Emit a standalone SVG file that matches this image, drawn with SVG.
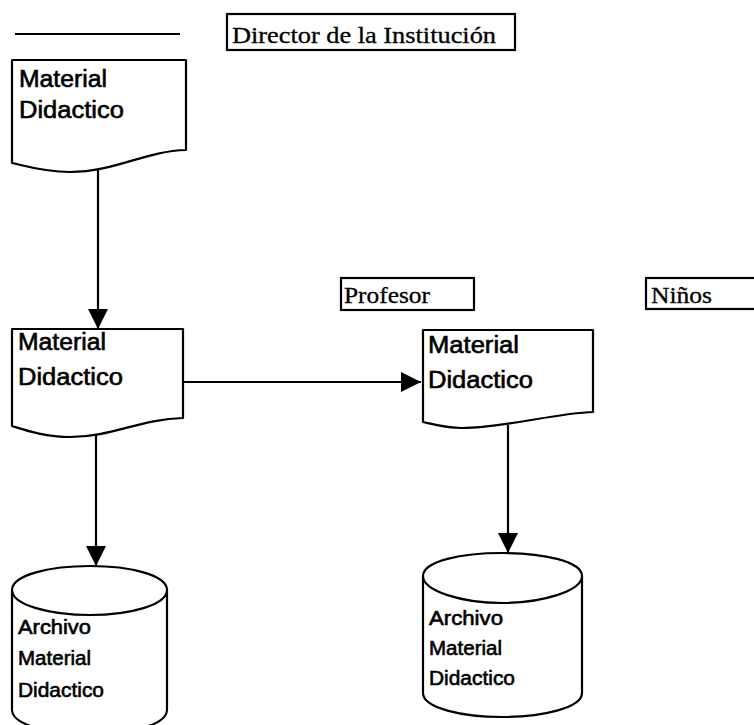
<svg xmlns="http://www.w3.org/2000/svg" width="754" height="725" viewBox="0 0 754 725">
<defs>
<style>
.shape{fill:#fff;stroke:#000;stroke-width:2.2;stroke-linejoin:round}
.lbl{fill:none;stroke:#000;stroke-width:2.2}
.ser{font-family:"Liberation Serif","Times New Roman",serif;font-size:23px;fill:#000;stroke:#000;stroke-width:0.3}
.doc{font-family:"Liberation Sans",Arial,sans-serif;font-size:23px;fill:#000;stroke:#000;stroke-width:0.6}
.cyl{font-family:"Liberation Sans",Arial,sans-serif;font-size:20px;fill:#000;stroke:#000;stroke-width:0.6}
.con{fill:none;stroke:#000;stroke-width:2.2}
</style>
<marker id="ah" markerWidth="20" markerHeight="20" refX="10" refY="5" orient="auto" markerUnits="userSpaceOnUse" viewBox="0 0 10 10">
<path d="M0,0 L10,5 L0,10 Z" fill="#000"/>
</marker>
</defs>
<rect width="754" height="725" fill="#fff"/>

<g id="topline"><line x1="15" y1="34" x2="180" y2="34" stroke="#000" stroke-width="2.2"/></g>

<g id="lane-director">
<rect class="lbl" x="227" y="14" width="288" height="36"/>
<text class="ser" x="232" y="43" textLength="264" lengthAdjust="spacingAndGlyphs">Director de la Institución</text>
</g>
<g id="lane-profesor">
<rect class="lbl" x="341" y="278" width="133" height="32"/>
<text class="ser" x="344" y="303" textLength="86" lengthAdjust="spacingAndGlyphs">Profesor</text>
</g>
<g id="lane-ninos">
<rect class="lbl" x="646" y="278" width="120" height="31"/>
<text class="ser" x="651" y="303" textLength="61" lengthAdjust="spacingAndGlyphs">Niños</text>
</g>

<g id="connectors">
<line class="con" x1="98" y1="166" x2="98" y2="329" marker-end="url(#ah)"/>
<line class="con" x1="183" y1="382" x2="421" y2="382" marker-end="url(#ah)"/>
<line class="con" x1="96" y1="434" x2="96" y2="566" marker-end="url(#ah)"/>
<line class="con" x1="508" y1="425" x2="508" y2="553" marker-end="url(#ah)"/>
</g>

<g id="doc1">
<path class="shape" d="M12,60 H186 V150 C145,151 115,172 70,172 C45,172 25,166 12,163 Z"/>
<text class="doc" x="19" y="87" textLength="88" lengthAdjust="spacingAndGlyphs">Material</text>
<text class="doc" x="19" y="118" textLength="105" lengthAdjust="spacingAndGlyphs">Didactico</text>
</g>

<g id="doc2">
<path class="shape" d="M12,329 H183 V418 C140,419 112,437 70,437 C45,437 25,430 12,426 Z"/>
<text class="doc" x="18" y="350" textLength="88" lengthAdjust="spacingAndGlyphs">Material</text>
<text class="doc" x="18" y="385" textLength="105" lengthAdjust="spacingAndGlyphs">Didactico</text>
</g>

<g id="doc3">
<path class="shape" d="M423,330 H593 V412 C555,413 505,428 462,428 C445,428 432,424 423,422 Z"/>
<text class="doc" x="428" y="353" textLength="91" lengthAdjust="spacingAndGlyphs">Material</text>
<text class="doc" x="428" y="388" textLength="105" lengthAdjust="spacingAndGlyphs">Didactico</text>
</g>

<g id="cyl1">
<path class="shape" d="M12,590 C12,575 50,566 90,566 C130,566 167,575 167,590 V710 C167,725 130,734 90,734 C50,734 12,725 12,710 Z"/>
<path class="shape" d="M12,590 C12,605 50,615 90,615 C130,615 167,605 167,590"/>
<text class="cyl" x="18" y="634" textLength="73" lengthAdjust="spacingAndGlyphs">Archivo</text>
<text class="cyl" x="18" y="665" textLength="73" lengthAdjust="spacingAndGlyphs">Material</text>
<text class="cyl" x="18" y="697" textLength="86" lengthAdjust="spacingAndGlyphs">Didactico</text>
</g>

<g id="cyl2">
<path class="shape" d="M423,576 C423,561 462,553 502,553 C542,553 582,561 582,576 V693 C582,708 542,717 502,717 C462,717 423,708 423,693 Z"/>
<path class="shape" d="M423,576 C423,591 462,603 502,603 C542,603 582,591 582,576"/>
<text class="cyl" x="429" y="625" textLength="74" lengthAdjust="spacingAndGlyphs">Archivo</text>
<text class="cyl" x="429" y="655" textLength="73" lengthAdjust="spacingAndGlyphs">Material</text>
<text class="cyl" x="429" y="685" textLength="86" lengthAdjust="spacingAndGlyphs">Didactico</text>
</g>
</svg>
